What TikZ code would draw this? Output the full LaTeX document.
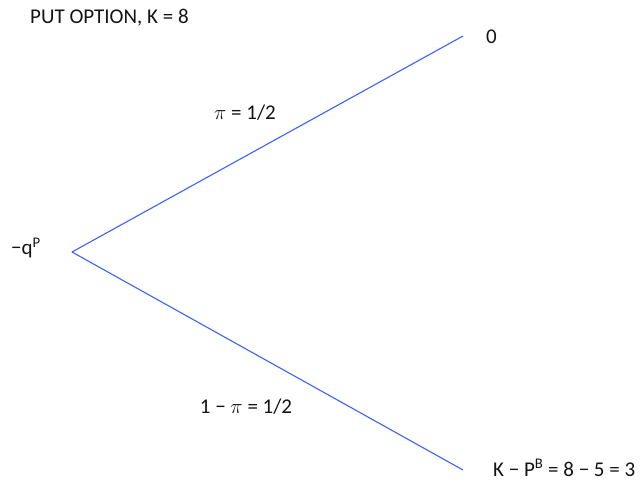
\documentclass[tikz,border=0pt]{standalone}
\usepackage{fontspec}
\setmainfont{Carlito}
\definecolor{branch}{RGB}{62,98,245}
\definecolor{txt}{RGB}{20,20,20}
\begin{document}
\begin{tikzpicture}[x=1pt,y=-1pt,
  lbl/.style={inner sep=0pt,text=txt,font=\fontsize{21}{25}\selectfont},
  br/.style={draw=branch,line width=1.1pt}]
\useasboundingbox (0,0) rectangle (641,483);
\node[lbl,anchor=west] (title) at (30,18) {PUT OPTION, K = 8};
\coordinate (root) at (72,252);
\coordinate (up) at (463,36);
\coordinate (dn) at (463,470);
\node[lbl] (q) at (26,248) {−q\textsuperscript{P}};
\node[lbl,anchor=west] (zero) at (486,37) {0};
\node[lbl,anchor=west] (pay) at (493,468) {K − P\textsuperscript{B} = 8 − 5 = 3};
\node[lbl] (pu) at (245,113) {$\pi$ = 1/2};
\node[lbl] (pd) at (246,407) {1 − $\pi$ = 1/2};
\draw[br] (root) -- (up);
\draw[br] (root) -- (dn);
\end{tikzpicture}
\end{document}
